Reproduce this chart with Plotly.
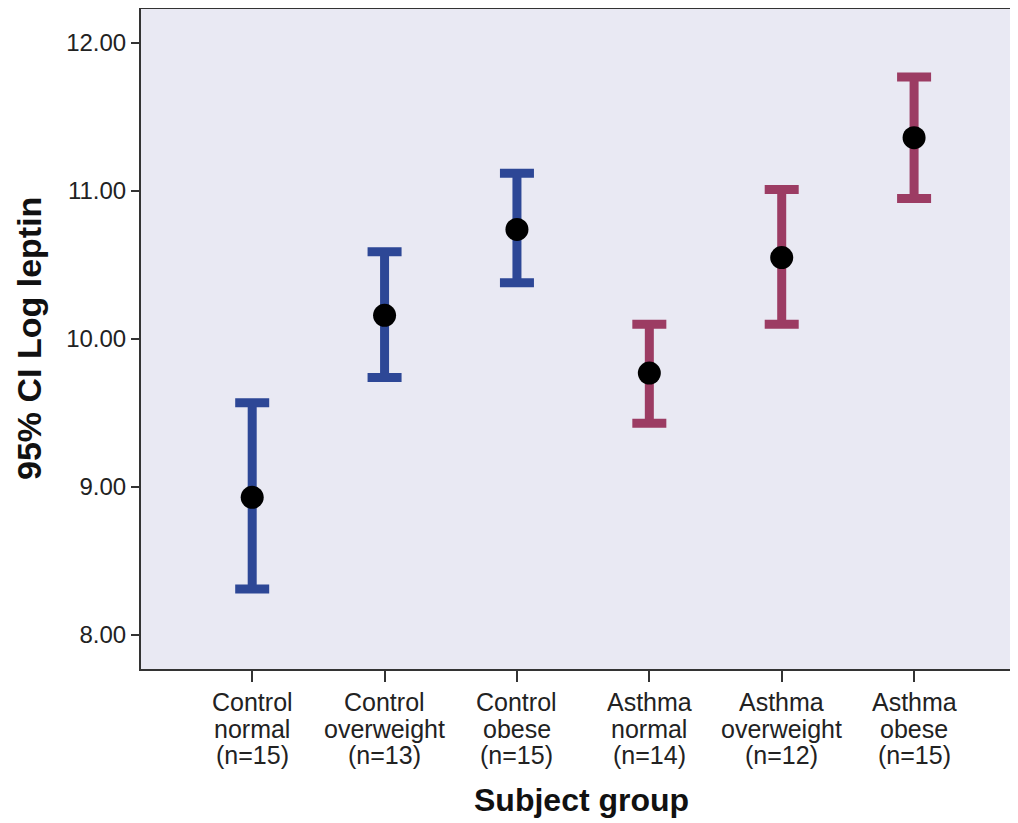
import plotly.graph_objects as go

group_lines = [
    ["Control", "normal", "(n=15)"],
    ["Control", "overweight", "(n=13)"],
    ["Control", "obese", "(n=15)"],
    ["Asthma", "normal", "(n=14)"],
    ["Asthma", "overweight", "(n=12)"],
    ["Asthma", "obese", "(n=15)"],
]
means = [8.93, 10.16, 10.74, 9.77, 10.55, 11.36]
upper = [9.57, 10.59, 11.12, 10.10, 11.01, 11.77]
lower = [8.31, 9.74, 10.38, 9.43, 10.10, 10.95]
bar_colors = ["#2d4796", "#2d4796", "#2d4796", "#9c3c63", "#9c3c63", "#9c3c63"]
y_ticks = [8, 9, 10, 11, 12]

xpos = list(range(len(group_lines)))
fig = go.Figure()
for i in xpos:
    fig.add_trace(go.Scatter(
        x=[i], y=[means[i]], mode="markers",
        marker=dict(color="black", size=23),
        error_y=dict(type="data", symmetric=False,
                     array=[upper[i] - means[i]], arrayminus=[means[i] - lower[i]],
                     color=bar_colors[i], thickness=9, width=17),
        showlegend=False, hoverinfo="skip"))

font_family = "Liberation Sans, Arial, sans-serif"
fig.update_layout(
    width=1010, height=815,
    margin=dict(l=133, r=0, t=1, b=154),
    paper_bgcolor="white", plot_bgcolor="#e9e9f3",
    font=dict(family=font_family, color="#222222"),
)
fig.update_xaxes(
    range=[-0.84, 5.785], tickvals=xpos, showticklabels=False,
    showgrid=False, zeroline=False, showline=True, linecolor="#333333", linewidth=2,
    mirror=True, ticks="outside", ticklen=11, tickcolor="#333333", tickwidth=2,
)
fig.update_yaxes(
    range=[7.77, 12.23], tickvals=y_ticks, ticktext=[f"{v:.2f}" for v in y_ticks],
    showgrid=False, zeroline=False, showline=True, linecolor="#333333", linewidth=2,
    ticks="outside", ticklen=8, tickcolor="#333333", tickwidth=2,
    tickfont=dict(size=24, color="#222222"),
)

# multi-line category labels with tight line spacing
line_offsets = [-33, -60, -86]
for i, lines in enumerate(group_lines):
    for txt, dy in zip(lines, line_offsets):
        fig.add_annotation(x=i, xref="x", y=0, yref="paper", yanchor="middle",
                           yshift=dy, text=txt, showarrow=False,
                           font=dict(size=25, color="#222222"))

# axis titles
fig.add_annotation(x=0.502, xref="paper", y=0, yref="paper", yanchor="middle",
                   yshift=-131, text="<b>Subject group</b>", showarrow=False,
                   font=dict(size=32, color="#111111"))
fig.add_annotation(x=0, xref="paper", xanchor="center", xshift=-112, y=0.5, yref="paper",
                   yanchor="middle", textangle=-90, text="<b>95% CI Log leptin</b>",
                   showarrow=False, font=dict(size=34, color="#111111"))

fig.write_html("out.html")
